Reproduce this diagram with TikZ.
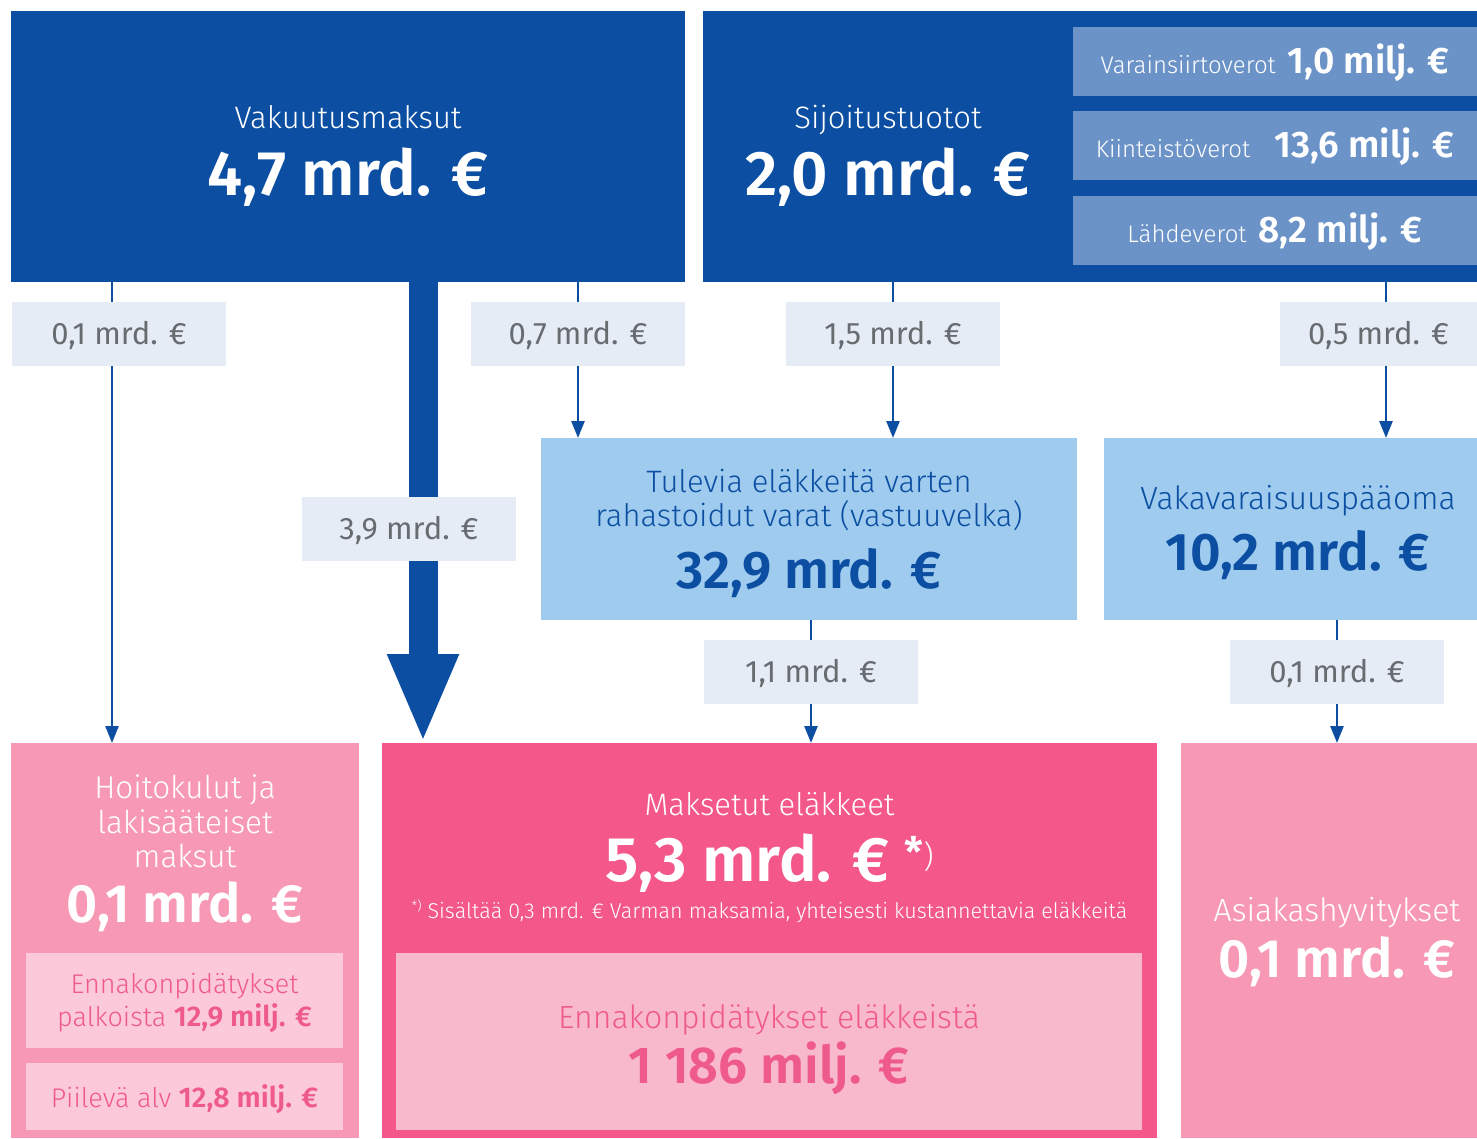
\documentclass[tikz,border=0pt]{standalone}
\usepackage{fontspec}
\setmainfont{Fira Sans}[UprightFont=* Light, BoldFont=* SemiBold]
\newfontfamily\regfont{Fira Sans}
\usepackage{xcolor}
\definecolor{vblue}{HTML}{0B4EA2}
\definecolor{subblue}{HTML}{6B93C8}
\definecolor{lblfill}{HTML}{E6ECF6}
\definecolor{lblgrey}{HTML}{676C71}
\definecolor{skyblue}{HTML}{9ECBEE}
\definecolor{pinkmid}{HTML}{F799B5}
\definecolor{pinkhot}{HTML}{F4588A}
\definecolor{pinkpale}{HTML}{FBC9D9}
\definecolor{pinksoft}{HTML}{F9B9CC}
\definecolor{pinktext}{HTML}{EF5A8C}
\usetikzlibrary{arrows.meta}
\newcommand{\fs}[1]{\fontsize{#1}{#1}\selectfont}
\tikzset{
  box/.style={fill=#1, inner sep=0pt, outer sep=0pt},
  flow/.style={vblue, line width=2.6pt, -{Triangle[width=13pt,length=17pt]}},
  amount/.style={fill=lblfill, text=lblgrey, font=\regfont\fs{31}, inner sep=0pt,
    minimum width=214pt, minimum height=64pt, text height=21pt, text depth=0pt},
  txt/.style={anchor=base, inner sep=0pt, align=center},
}
\begin{document}
\begin{tikzpicture}[x=1pt,y=-1pt]
  \useasboundingbox (0,0) rectangle (1477,1138);

  % top row
  \node[box=vblue, minimum width=674pt, minimum height=271pt] (vak) at (348,146.5) {};
  \node[box=vblue, minimum width=774pt, minimum height=271pt] (sij) at (1090,146.5) {};
  \node[txt, white, font=\fs{31}] (vakname) at (348,128) {Vakuutusmaksut};
  \node[txt, white, font=\bfseries\fs{63}] (vaksum) at (348,195) {4,7 mrd. €};
  \node[txt, white, font=\fs{31}] (sijname) at (888,128) {Sijoitustuotot};
  \node[txt, white, font=\bfseries\fs{63}] (sijsum) at (888,195) {2,0 mrd. €};

  \node[box=subblue, minimum width=404pt, minimum height=69pt] (vero1) at (1275,61.5) {};
  \node[box=subblue, minimum width=404pt, minimum height=69pt] (vero2) at (1275,145.5) {};
  \node[box=subblue, minimum width=404pt, minimum height=69pt] (vero3) at (1275,230.5) {};
  \node[txt, white] (vero1t) at (1275,73)
    {\fs{24}Varainsiirtoverot\enspace{\bfseries\fs{37}1,0 milj. €}};
  \node[txt, white] (vero2t) at (1275,157)
    {\fs{24}Kiinteistöverot\enspace\enspace{\bfseries\fs{37}13,6 milj. €}};
  \node[txt, white] (vero3t) at (1275,242)
    {\fs{24}Lähdeverot\enspace{\bfseries\fs{37}8,2 milj. €}};

  % middle row
  \node[box=skyblue, minimum width=536pt, minimum height=182pt] (tul) at (809,529) {};
  \node[box=skyblue, minimum width=373pt, minimum height=182pt] (vara) at (1290.5,529) {};
  \node[txt, vblue, font=\fs{31}] (tulname1) at (809,492) {Tulevia eläkkeitä varten};
  \node[txt, vblue, font=\fs{31}] (tulname2) at (809,526) {rahastoidut varat (vastuuvelka)};
  \node[txt, vblue, font=\bfseries\fs{53}] (tulsum) at (809,588) {32,9 mrd. €};
  \node[txt, vblue, font=\fs{32}] (varaname) at (1298,509) {Vakavaraisuuspääoma};
  \node[txt, vblue, font=\bfseries\fs{53}] (varasum) at (1298,570) {10,2 mrd. €};

  % bottom row
  \node[box=pinkmid, minimum width=348pt, minimum height=395pt] (hoito) at (185,940.5) {};
  \node[box=pinkhot, minimum width=775pt, minimum height=395pt] (maks) at (769.5,940.5) {};
  \node[box=pinkmid, minimum width=296pt, minimum height=395pt] (asiak) at (1329,940.5) {};
  \node[box=pinkpale, minimum width=317pt, minimum height=95pt] (palk) at (184.5,1000.5) {};
  \node[box=pinkpale, minimum width=317pt, minimum height=67pt] (alv) at (184.5,1096.5) {};
  \node[box=pinksoft, minimum width=746pt, minimum height=177pt] (ennak) at (769,1041.5) {};

  \node[txt, white, font=\fs{31.5}] (hoito1) at (185,798) {Hoitokulut ja};
  \node[txt, white, font=\fs{31.5}] (hoito2) at (185,833) {lakisääteiset};
  \node[txt, white, font=\fs{31.5}] (hoito3) at (185,867) {maksut};
  \node[txt, white, font=\bfseries\fs{54}] (hoitosum) at (185,922) {0,1 mrd. €};
  \node[txt, pinktext, font=\fs{27}] (palk1) at (184.5,993) {Ennakonpidätykset};
  \node[txt, pinktext, font=\fs{27}] (palk2) at (184.5,1026) {palkoista {\bfseries\fs{28.5}12,9 milj. €}};
  \node[txt, pinktext, font=\fs{27}] (alvt) at (184.5,1107) {Piilevä alv {\bfseries\fs{28.5}12,8 milj. €}};

  \node[txt, white, font=\fs{31}] (maksname) at (769.5,815) {Maksetut eläkkeet};
  \node[txt, white, font=\bfseries\fs{63}] (makssum) at (769.5,881)
    {5,3 mrd. € \raisebox{14pt}{\fs{42}*\mdseries\fs{31})}};
  \node[txt, white, font=\fs{21.5}] (maksnote) at (769.5,918)
    {\raisebox{8pt}{\fs{13}*)} Sisältää 0,3 mrd. € Varman maksamia, yhteisesti kustannettavia eläkkeitä};
  \node[txt, pinktext, font=\fs{32}] (ennakname) at (769,1028) {Ennakonpidätykset eläkkeistä};
  \node[txt, pinktext, font=\bfseries\fs{52}] (ennaksum) at (769,1083) {1 186 milj. €};

  \node[txt, white, font=\fs{32}] (asiakname) at (1337,921) {Asiakashyvitykset};
  \node[txt, white, font=\bfseries\fs{54}] (asiaksum) at (1337,977) {0,1 mrd. €};

  % flows
  \coordinate (x01) at (112,0);
  \coordinate (x07) at (578,0);
  \coordinate (x15) at (893,0);
  \coordinate (x05) at (1386,0);
  \coordinate (x39) at (423,0);
  \coordinate (x11) at (811,0);
  \coordinate (x01b) at (1337,0);
  \draw[flow] (vak.south -| x01) -- (hoito.north -| x01);
  \draw[flow] (vak.south -| x07) -- (tul.north -| x07);
  \draw[flow] (sij.south -| x15) -- (tul.north -| x15);
  \draw[flow] (sij.south -| x05) -- (vara.north -| x05);
  \draw[flow] (tul.south -| x11) -- (maks.north -| x11);
  \draw[flow] (vara.south -| x01b) -- (asiak.north -| x01b);
  \draw[vblue, line width=29pt, -{Triangle[width=65pt,length=89pt]}]
    (vak.south -| x39) -- (maks.north -| x39);

  \node[amount] (a01) at (119,334) {0,1 mrd. €};
  \node[amount] (a07) at (578,334) {0,7 mrd. €};
  \node[amount] (a15) at (893,334) {1,5 mrd. €};
  \node[amount, minimum width=197pt] (a05) at (1378.5,334) {0,5 mrd. €};
  \node[amount] (a39) at (409,529) {3,9 mrd. €};
  \node[amount] (a11) at (811,672) {1,1 mrd. €};
  \node[amount] (a01b) at (1337,672) {0,1 mrd. €};
\end{tikzpicture}
\end{document}
